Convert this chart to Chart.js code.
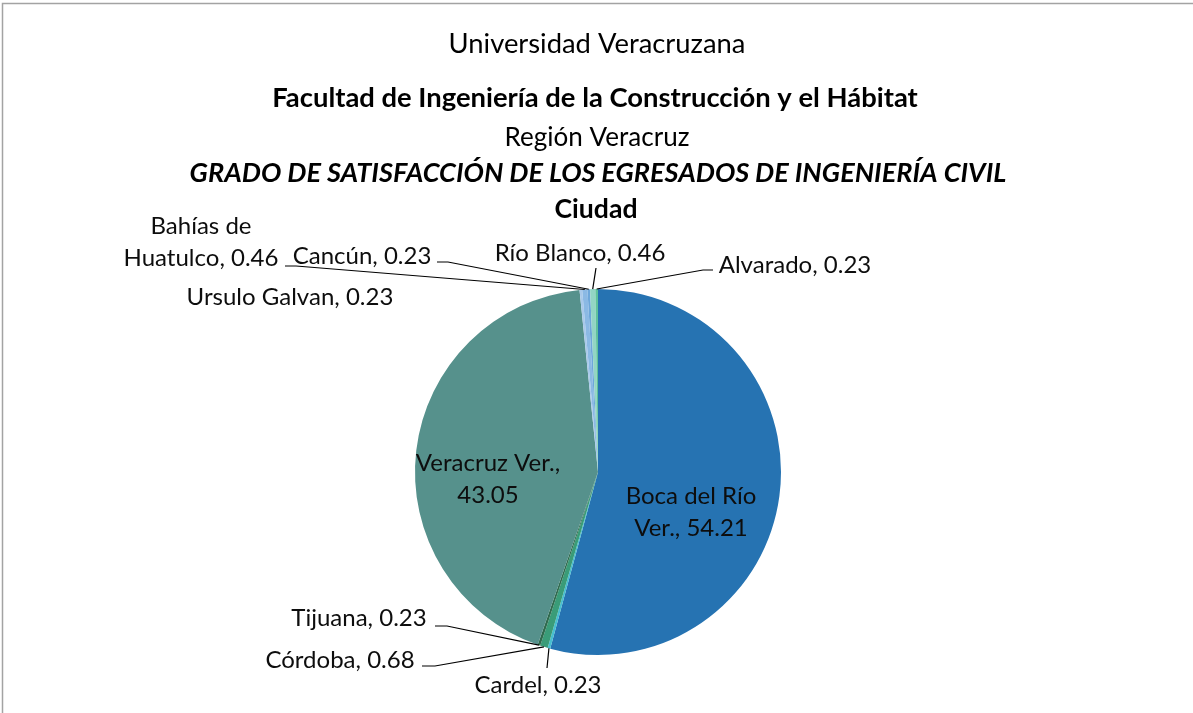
<!DOCTYPE html>
<html><head><meta charset="utf-8">
<script src="https://cdn.jsdelivr.net/npm/chart.js@4.4.1/dist/chart.umd.min.js"></script>
<style>html,body{margin:0;padding:0;background:#fff;overflow:hidden}</style>
</head><body>
<canvas id="c" width="1193" height="713"></canvas>
<script>
// ---- data ----
const cities = ["Boca del Río Ver.", "Cardel", "Córdoba", "Tijuana", "Veracruz Ver.", "Ursulo Galvan", "Bahías de Huatulco", "Cancún", "Río Blanco", "Alvarado"];
const percents = [54.21, 0.23, 0.68, 0.23, 43.05, 0.23, 0.46, 0.23, 0.46, 0.23];
const sliceColors = ["#2673b2", "#46bfd0", "#3a9c78", "#2f6a4e", "#56918c", "#a9c9ea", "#8bb9e4", "#6ea7da", "#93d5c4", "#5fc19c"];
const titleLines = ["Universidad Veracruzana", "Facultad de Ingeniería de la Construcción y el Hábitat", "Región Veracruz", "GRADO DE SATISFACCIÓN DE LOS EGRESADOS DE INGENIERÍA CIVIL", "Ciudad"];

// ---- layout / style (not data) ----
const FONT = "Lato";
const titleStyle = [
  {style: "", weight: "400", cx: 597, base: 53, w: 297},
  {style: "", weight: "700", cx: 595, base: 107, w: 646},
  {style: "", weight: "400", cx: 597, base: 146, w: 185},
  {style: "italic", weight: "700", cx: 598, base: 182, w: 817},
  {style: "", weight: "700", cx: 596, base: 218, w: 83}
];
// label layout per slice: words on first line, centre x, first baseline, leader start + elbow
const labelLayout = [
  {brk: 3, cx: 691, base: 504, leader: null},
  {brk: 0, cx: 538, base: 693, leader: {x: 547, y: 668, elbow: 0}},
  {brk: 0, cx: 340, base: 668, leader: {x: 422, y: 666, elbow: 13}},
  {brk: 0, cx: 359, base: 626, leader: {x: 435, y: 626, elbow: 12}},
  {brk: 2, cx: 488, base: 471, leader: null},
  {brk: 0, cx: 290, base: 305, leader: null},
  {brk: 2, cx: 201, base: 234, leader: {x: 285, y: 266, elbow: 11}},
  {brk: 0, cx: 362, base: 264, leader: {x: 437, y: 262, elbow: 11}},
  {brk: 0, cx: 580, base: 261, leader: {x: 596, y: 268, elbow: 0}},
  {brk: 0, cx: 795, base: 273, leader: {x: 713, y: 270, elbow: -10}}
];
const LINE_H = 32;

function fitSize(ctx, text, style, weight, target) {
  ctx.font = `${style} ${weight} 100px ${FONT}`;
  const w = ctx.measureText(text).width;
  return 100 * target / w;
}

const overlay = {
  id: "overlay",
  afterDraw(chart) {
    const ctx = chart.ctx;
    ctx.save();
    // frame
    ctx.strokeStyle = "#a3a3a3";
    ctx.lineWidth = 1.5;
    ctx.strokeRect(2.5, 3.5, 1300, 800);
    // titles
    ctx.fillStyle = "#000";
    ctx.textAlign = "center";
    ctx.textBaseline = "alphabetic";
    titleLines.forEach((t, i) => {
      const s = titleStyle[i];
      const size = fitSize(ctx, t, s.style, s.weight, s.w);
      ctx.font = `${s.style} ${s.weight} ${size}px ${FONT}`;
      ctx.fillText(t, s.cx, s.base);
    });
    // labels
    const labelSize = fitSize(ctx, "Huatulco, 0.46", "", "400", 155);
    const meta = chart.getDatasetMeta(0);
    meta.data.forEach((arc, i) => {
      const L = labelLayout[i];
      const words = (cities[i] + ", " + percents[i].toFixed(2)).split(" ");
      const lines = L.brk ? [words.slice(0, L.brk).join(" "), words.slice(L.brk).join(" ")] : [words.join(" ")];
      ctx.font = `400 ${labelSize}px ${FONT}`;
      ctx.fillStyle = "#0d0d0d";
      lines.forEach((ln, k) => ctx.fillText(ln, L.cx, L.base + k * LINE_H));
      if (L.leader) {
        const p = arc.getProps(["x", "y", "startAngle", "endAngle", "outerRadius"], true);
        const mid = (p.startAngle + p.endAngle) / 2;
        const ex = p.x + Math.cos(mid) * p.outerRadius;
        const ey = p.y + Math.sin(mid) * p.outerRadius;
        ctx.strokeStyle = "#000";
        ctx.lineWidth = 1.2;
        ctx.beginPath();
        ctx.moveTo(L.leader.x, L.leader.y);
        if (L.leader.elbow) ctx.lineTo(L.leader.x + L.leader.elbow, L.leader.y);
        ctx.lineTo(ex, ey);
        ctx.stroke();
      }
    });
    ctx.restore();
  }
};

new Chart(document.getElementById("c"), {
  type: "pie",
  data: {
    labels: cities,
    datasets: [{data: percents, backgroundColor: sliceColors, borderWidth: 0}]
  },
  options: {
    responsive: false,
    animation: false,
    layout: {padding: {top: 289, bottom: 58, left: 415, right: 412}},
    plugins: {legend: {display: false}, tooltip: {enabled: false}, title: {display: false}}
  },
  plugins: [overlay]
});
</script>
</body></html>
